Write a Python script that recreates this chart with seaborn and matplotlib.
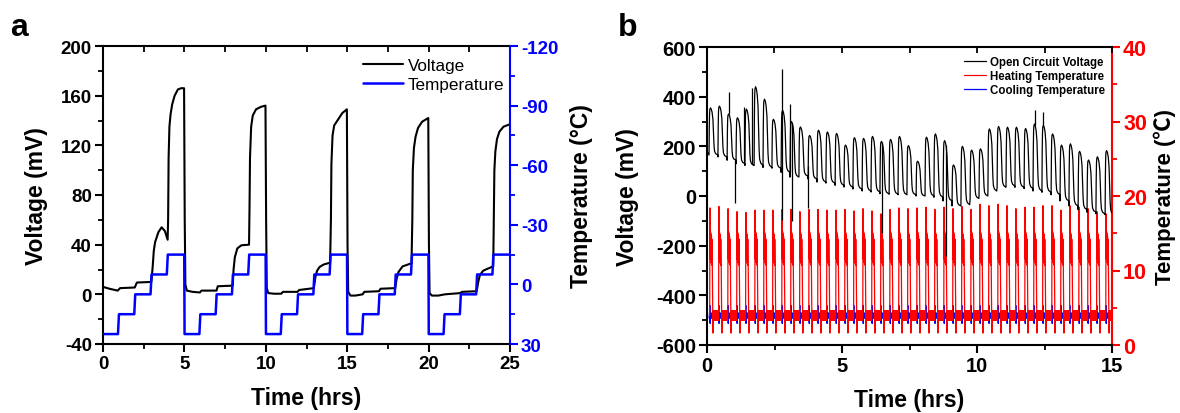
import numpy as np
import pandas as pd
import matplotlib
matplotlib.use("Agg")
import matplotlib.pyplot as plt
import seaborn as sns
from matplotlib.ticker import MultipleLocator
from matplotlib.lines import Line2D

sns.set_theme(style="ticks", rc={
    "axes.edgecolor": "black", "text.color": "black", "axes.labelcolor": "black",
    "xtick.color": "black", "ytick.color": "black", "axes.linewidth": 1.5,
})
plt.rcParams['font.family'] = ['Liberation Sans', 'Noto Sans CJK SC', 'DejaVu Sans']
plt.rcParams['font.weight'] = 'bold'
plt.rcParams['axes.labelweight'] = 'bold'
plt.rcParams['axes.unicode_minus'] = False

# ---------------- Panel a data ----------------
A_TIME = [0.0, 0.4, 0.9, 1.05, 1.95, 2.08, 2.97, 3.05, 3.12, 3.2, 3.4, 3.6, 3.8, 3.97, 4.0, 4.03, 4.08, 4.15, 4.25, 4.4, 4.6, 4.8, 4.98,
          5.02, 5.06, 5.15, 5.5, 5.95, 6.05, 6.97, 7.05, 7.97, 8.02, 8.1, 8.25, 8.5, 8.97, 9.0, 9.03, 9.1, 9.2, 9.4, 9.7, 9.98,
          10.02, 10.06, 10.15, 10.5, 10.95, 11.05, 11.95, 12.05, 12.95, 13.05, 13.15, 13.3, 13.55, 13.95, 14.0, 14.03, 14.1, 14.2, 14.4, 14.7, 14.98,
          15.02, 15.06, 15.2, 15.5, 15.95, 16.05, 16.95, 17.05, 17.95, 18.03, 18.15, 18.4, 18.95, 19.0, 19.03, 19.1, 19.2, 19.35, 19.6, 19.98,
          20.02, 20.06, 20.2, 20.6, 21.0, 21.95, 22.05, 22.95, 23.05, 23.15, 23.35, 23.6, 23.97, 24.0, 24.04, 24.1, 24.2, 24.35, 24.6, 25.0]
A_VOLT = [6, 4.5, 3, 5, 5.5, 9.5, 10, 22, 35, 42, 50, 54, 51, 44, 60, 110, 135, 145, 153, 160, 165, 166, 166,
          60, 8, 3, 2, 1.5, 3, 3, 6.5, 7, 20, 30, 37, 39.5, 40, 70, 110, 135, 144, 149, 151, 152,
          60, 5, 1, 0.5, 0.5, 2, 2, 3.5, 5, 14, 19, 22, 24, 25.5, 60, 105, 128, 136, 140, 146, 149,
          40, 2, -1, -1, 0, 2, 2.5, 4.5, 5, 12, 18, 22.5, 25, 60, 100, 118, 127, 134, 139, 142,
          40, 1, -1, -1, 0, 1, 2, 2.5, 10, 15.5, 19, 20.5, 22.5, 55, 100, 115, 125, 131, 135, 137]

A_TEMP_TIME = [0.0, 0.92, 0.98, 1.92, 1.98, 2.92, 2.98, 3.92, 3.98, 4.99,
               5.01, 5.92, 5.98, 6.92, 6.98, 7.92, 7.98, 8.92, 8.98, 9.99,
               10.01, 10.92, 10.98, 11.92, 11.98, 12.92, 12.98, 13.92, 13.98, 14.99,
               15.01, 15.92, 15.98, 16.92, 16.98, 17.92, 17.98, 18.92, 18.98, 19.99,
               20.01, 20.92, 20.98, 21.92, 21.98, 22.92, 22.98, 23.92, 23.98, 25.0]
A_TEMP = [25, 25, 15, 15, 5, 5, -5, -5, -15, -15,
          25, 25, 15, 15, 5, 5, -5, -5, -15, -15,
          25, 25, 15, 15, 5, 5, -5, -5, -15, -15,
          25, 25, 15, 15, 5, 5, -5, -5, -15, -15,
          25, 25, 15, 15, 5, 5, -5, -5, -15, -15]

# ---------------- Panel b data ----------------
B_CYCLE_T = [0.11, 0.44, 0.78, 1.11, 1.44, 1.78, 2.11, 2.44, 2.78, 3.11,
             3.44, 3.78, 4.11, 4.44, 4.78, 5.11, 5.44, 5.78, 6.11, 6.44,
             6.78, 7.11, 7.44, 7.78, 8.11, 8.44, 8.78, 9.11, 9.44, 9.78,
             10.11, 10.44, 10.78, 11.11, 11.44, 11.78, 12.11, 12.44, 12.78, 13.11,
             13.44, 13.78, 14.11, 14.44, 14.78]
B_OCV_PEAK = [355, 362, 330, 315, 350, 440, 390, 309, 345, 300,
              278, 244, 265, 258, 252, 205, 235, 232, 240, 220,
              228, 240, 203, 140, 237, 250, 223, 125, 200, 185,
              190, 270, 280, 277, 277, 272, 290, 285, 250, 205,
              210, 180, 145, 158, 183]
B_OCV_BASE = [165, 157, 144, 130, 123, 123, 115, 112, 95, 76,
              80, 68, 56, 52, 43, 36, 28, 20, 16, 9,
              7, 5, 5, 0, 0, -5, -20, -40, -35, -10,
              0, 20, 35, 40, 35, 30, 20, 15, 5, -20,
              -40, -55, -65, -72, -75]
B_OCV_START = 180
B_SPIKE_T = [0.80, 1.04, 1.36, 1.65, 2.77, 2.77, 3.06, 3.15, 3.75, 6.47, 8.85, 12.15, 12.46]
B_SPIKE_V = [418, -30, 360, 433, 512, -95, 372, -100, -50, -150, -240, 345, 340]

B_HEAT_PEAK = [18.4, 18.6, 18.3, 17.9, 17.8, 18.1, 18.1, 18.1, 18.2, 18.2,
               17.9, 18.2, 18.2, 18.1, 18.1, 18.2, 18.0, 18.3, 18.0, 17.6,
               18.2, 18.4, 18.3, 18.4, 18.5, 18.2, 18.5, 18.3, 18.6, 18.2,
               18.9, 18.7, 18.9, 18.7, 18.3, 18.5, 18.5, 18.7, 18.7, 18.1,
               18.7, 18.5, 18.3, 17.9, 17.6]

# one representative heating / cooling / voltage cycle
# (offset from cycle start in hrs; temperature in degC or fraction of the peak height)
HEAT_DT = [-0.01, 0.0, 0.006, 0.014, 0.022, 0.03, 0.038, 0.046, 0.054, 0.062, 0.07, 0.078, 0.086, 0.11, 0.125,
           0.135, 0.145, 0.155, 0.165, 0.175, 0.185, 0.195, 0.205, 0.215, 0.225, 0.235, 0.245, 0.255, 0.265,
           0.275, 0.285, 0.295, 0.305, 0.315]
HEAT_T = [4.0, None, 15.4, 11.5, 15.2, 11.2, 14.9, 11.0, 14.6, 10.9, 14.2, 10.7, 10.8, 1.6, 4.6,
          3.3, 4.6, 3.3, 4.6, 3.3, 4.6, 3.3, 4.6, 3.3, 4.6, 3.3, 4.6, 3.3, 4.6,
          3.3, 4.6, 3.3, 4.6, 3.3]
COOL_DT = [-0.03, -0.015, 0.0, 0.006, 0.012, 0.03, 0.05, 0.07, 0.09, 0.11, 0.13, 0.15, 0.17, 0.19, 0.21,
           0.23, 0.25, 0.27, 0.29]
COOL_T = [3.6, 4.3, 5.3, 2.9, 4.3, 3.6, 4.3, 3.6, 4.3, 3.6, 4.3, 3.6, 4.3, 3.6, 4.3,
          3.6, 4.3, 3.6, 4.3]
OCV_DT = [-0.035, -0.025, -0.015, -0.005, 0.02, 0.05, 0.08, 0.11, 0.13, 0.15, 0.17, 0.21, 0.29]
OCV_F = [0.0, 0.6, 0.88, 0.97, 1.0, 0.97, 0.9, 0.75, 0.45, 0.2, 0.08, 0.03, 0.0]

# ---------------- build series ----------------
ocv_t, ocv_v = [0.0], [B_OCV_START]
for tk, pk, bs in zip(B_CYCLE_T, B_OCV_PEAK, B_OCV_BASE):
    for dt, f in zip(OCV_DT, OCV_F):
        ocv_t.append(tk + dt)
        ocv_v.append(bs + f * (pk - bs))
heat_t, heat_v = [], []
cool_t, cool_v = [], []
for tk, hp in zip(B_CYCLE_T, B_HEAT_PEAK):
    for dt, v in zip(HEAT_DT, HEAT_T):
        heat_t.append(tk + dt)
        heat_v.append(hp if v is None else v)
    for dt, v in zip(COOL_DT, COOL_T):
        cool_t.append(tk + dt)
        cool_v.append(v)

df_ocv = pd.DataFrame({"t": ocv_t, "v": ocv_v})
df_heat = pd.DataFrame({"t": heat_t, "v": heat_v})
df_cool = pd.DataFrame({"t": cool_t, "v": cool_v})
df_av = pd.DataFrame({"t": A_TIME, "v": A_VOLT})
df_at = pd.DataFrame({"t": A_TEMP_TIME, "v": A_TEMP})

# ---------------- figure ----------------
fig = plt.figure(figsize=(11.8, 4.14), dpi=100)
W, H = 1180, 414
axa = fig.add_axes([103 / W, (H - 345) / H, 407 / W, 298 / H])
axb = fig.add_axes([707 / W, (H - 346) / H, 405 / W, 298 / H])

BLUE = "#0000ff"
RED = "#ff0000"
TICK_FS_A = 13.5
TICK_FS_B = 14.5
LABEL_FS = 16.5

def style_top(ax):
    sec = ax.secondary_xaxis('top')
    sec.xaxis.set_major_locator(MultipleLocator(2.5))
    sec.tick_params(axis='x', which='both', direction='in', length=4.5, width=1.3,
                    labeltop=False, labelbottom=False)
    sec.spines['top'].set_linewidth(1.5)
    ax.spines['top'].set_visible(False)

# ---- panel a ----
sns.lineplot(data=df_av, x="t", y="v", ax=axa, color="black", lw=1.5,
             estimator=None, sort=False)
axa2 = axa.twinx()
sns.lineplot(data=df_at, x="t", y="v", ax=axa2, color=BLUE, lw=1.8,
             estimator=None, sort=False)
axa.set_xlim(0, 25)
axa.set_ylim(-40, 200)
axa2.set_ylim(30, -120)
axa.xaxis.set_major_locator(MultipleLocator(5))
axa.xaxis.set_minor_locator(MultipleLocator(2.5))
axa.yaxis.set_major_locator(MultipleLocator(40))
axa.yaxis.set_minor_locator(MultipleLocator(20))
axa2.yaxis.set_major_locator(MultipleLocator(30))
axa2.yaxis.set_minor_locator(MultipleLocator(15))
axa.tick_params(which='major', direction='out', length=6, width=1.5, labelsize=TICK_FS_A, pad=2)
axa.tick_params(which='minor', direction='out', length=3.5, width=1.3)
axa2.tick_params(which='major', direction='out', length=6, width=1.5, labelsize=TICK_FS_A, pad=2,
                 colors=BLUE)
axa2.tick_params(which='minor', direction='out', length=3.5, width=1.3, colors=BLUE)
axa.spines['right'].set_visible(False)
axa2.spines['right'].set_color(BLUE)
axa2.spines['right'].set_linewidth(1.5)
for s in ['left', 'top', 'bottom']:
    axa2.spines[s].set_visible(False)
style_top(axa)
axa.set_xlabel("Time (hrs)", fontsize=LABEL_FS, labelpad=10)
axa.set_ylabel("Voltage (mV)", fontsize=LABEL_FS, labelpad=9)
axa2.set_ylabel("Temperature (°C)", fontsize=LABEL_FS, labelpad=8)
for lab in axa.get_xticklabels() + axa.get_yticklabels() + axa2.get_yticklabels():
    lab.set_fontweight('bold')
handles_a = [Line2D([], [], color="black", lw=1.5), Line2D([], [], color=BLUE, lw=1.8)]
axa2.legend(handles_a, ["Voltage", "Temperature"], loc="upper right",
            bbox_to_anchor=(0.99, 0.965), frameon=False, handlelength=2.35,
            handletextpad=0.25, labelspacing=0.25, borderaxespad=0, borderpad=0.1,
            prop={'weight': 'normal', 'size': 12.3})

# ---- panel b ----
axb2 = axb.twinx()
sns.lineplot(data=df_cool, x="t", y="v", ax=axb2, color=BLUE, lw=0.9,
             estimator=None, sort=False)
sns.lineplot(data=df_heat, x="t", y="v", ax=axb2, color=RED, lw=0.9,
             estimator=None, sort=False)
sns.lineplot(data=df_ocv, x="t", y="v", ax=axb, color="black", lw=0.9,
             estimator=None, sort=False)
spike_base = np.interp(B_SPIKE_T, ocv_t, ocv_v)
axb.vlines(B_SPIKE_T, spike_base, B_SPIKE_V, color="black", lw=0.9)
axb.set_zorder(axb2.get_zorder() + 1)
axb.patch.set_visible(False)
axb.set_xlim(0, 15)
axb.set_ylim(-600, 600)
axb2.set_ylim(0, 40)
axb.xaxis.set_major_locator(MultipleLocator(5))
axb.xaxis.set_minor_locator(MultipleLocator(2.5))
axb.yaxis.set_major_locator(MultipleLocator(200))
axb.yaxis.set_minor_locator(MultipleLocator(100))
axb2.yaxis.set_major_locator(MultipleLocator(10))
axb2.yaxis.set_minor_locator(MultipleLocator(5))
axb.tick_params(which='major', direction='out', length=6, width=1.5, labelsize=TICK_FS_B, pad=2)
axb.tick_params(which='minor', direction='out', length=3.5, width=1.3)
axb2.tick_params(which='major', direction='out', length=6, width=1.5, labelsize=15.5, pad=2,
                 colors=RED)
axb2.tick_params(which='minor', direction='out', length=3.5, width=1.3, colors=RED)
axb.spines['right'].set_visible(False)
axb2.spines['right'].set_color(RED)
axb2.spines['right'].set_linewidth(1.5)
for s in ['left', 'top', 'bottom']:
    axb2.spines[s].set_visible(False)
style_top(axb)
axb.set_xlabel("Time (hrs)", fontsize=LABEL_FS, labelpad=9)
axb.set_ylabel("Voltage (mV)", fontsize=LABEL_FS, labelpad=12)
axb2.set_ylabel("Temperature (℃)", fontsize=16, labelpad=5)
for lab in axb.get_xticklabels() + axb.get_yticklabels() + axb2.get_yticklabels():
    lab.set_fontweight('bold')
handles_b = [Line2D([], [], color="black", lw=0.9), Line2D([], [], color=RED, lw=0.9),
             Line2D([], [], color=BLUE, lw=0.9)]
axb.legend(handles_b, ["Open Circuit Voltage", "Heating Temperature", "Cooling Temperature"],
           loc="upper right", bbox_to_anchor=(0.985, 0.975), frameon=False, handlelength=1.9,
           handletextpad=0.3, labelspacing=0.2, borderaxespad=0, borderpad=0.1,
           prop={'weight': 'bold', 'size': 8.3})

fig.text(10 / W, 1 - 28 / H, "a", fontsize=23, fontweight='bold', va='center', ha='left')
fig.text(618 / W, 1 - 28 / H, "b", fontsize=23, fontweight='bold', va='center', ha='left')

fig.savefig("out.png", dpi=100)
